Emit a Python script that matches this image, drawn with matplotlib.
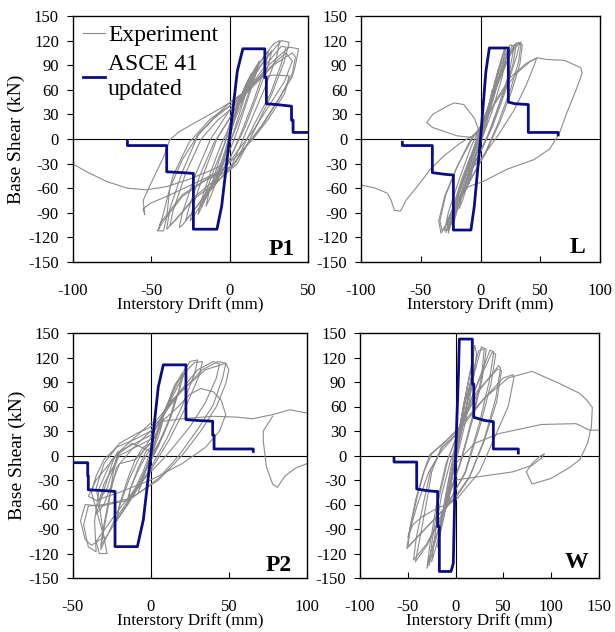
import matplotlib
matplotlib.use('Agg')
import matplotlib.pyplot as plt
import numpy as np
from matplotlib.lines import Line2D

plt.rcParams['font.family'] = ['Liberation Serif', 'DejaVu Serif']
plt.rcParams['axes.unicode_minus'] = False

# ---------------- P1 ----------------
p1_exp_x = [0, 3, 6, 8, 6, 2, -1, -4, -7, -9, -7, -3,
            0, 5, 10, 14, 12, 7, 2, -2, -7, -12, -15, -13, -8, -3,
            0, 6, 12, 19, 17, 11, 5, 0, -8, -15, -20, -18, -12, -5,
            0, 8, 16, 25, 23, 16, 8, 0, -10, -18, -25, -23, -16, -8,
            0, 10, 20, 28, 32, 30, 22, 12, 2, -10, -22, -30, -32, -30, -22, -12,
            0, 10, 22, 33, 38, 35, 27, 17, 5, -8, -22, -35, -40, -38, -30, -20, -10,
            0, 12, 25, 38, 44, 42, 40, 30, 20, 10, 0, -15, -30, -42, -46, -42, -40, -38, -30, -20, -8,
            0, 10, 20, 28, 38, 35, 25, 15, 5, -5, -20, -40, -50, -55, -54, -55, -51, -42, -38, -32, -19, -8,
            0, 10, 22, 30, 36, 40, 35, 25, 15, 5, 0, -14, -27, -40, -53, -65, -78, -91, -100]
p1_exp_y = [0, 25, 45, 55, 42, 15, -5, -30, -48, -55, -40, -15,
            5, 40, 65, 80, 65, 35, 5, -15, -45, -70, -82, -65, -35, -5,
            10, 45, 72, 95, 80, 45, 10, -15, -45, -72, -92, -75, -40, -5,
            15, 55, 85, 108, 90, 50, 10, -25, -55, -80, -100, -80, -40, 0,
            25, 62, 95, 116, 120, 100, 60, 15, -30, -58, -85, -105, -108, -90, -45, 0,
            35, 60, 95, 120, 118, 95, 55, 15, -30, -52, -72, -100, -110, -85, -40, 5, 25,
            40, 60, 90, 112, 110, 90, 76, 45, 15, -10, -38, -50, -70, -100, -112, -112, -95, -60, -25, 5, 30,
            44, 58, 75, 78, 77, 55, 25, 0, -20, -38, -52, -70, -78, -85, -92, -75, -58, -22, -1, 9, 23, 35,
            44, 58, 80, 95, 105, 95, 70, 40, 10, -15, -28, -40, -50, -58, -62, -60, -52, -40, -30]
p1_rep_x = [0, 7, 13, 17, 15, 9, 3, -3, -9, -15, -18, -16, -10, -3,
            0, 9, 18, 27, 25, 18, 10, 0, -10, -20, -28, -26, -19, -10,
            0, 11, 23, 33, 36, 33, 26, 15, 4, -8, -22, -34, -38, -36, -28, -18, -8,
            0, 14, 28, 40, 42, 40, 32, 22, 12, 2, -14, -30, -44, -45, -42, -36, -26, -12, 0]
p1_rep_y = [8, 40, 68, 85, 72, 38, 8, -18, -45, -70, -84, -70, -38, -5,
            18, 52, 85, 108, 92, 55, 15, -25, -52, -80, -100, -85, -45, -5,
            25, 58, 90, 113, 112, 92, 55, 15, -28, -48, -70, -98, -106, -88, -42, 0, 22,
            35, 62, 90, 105, 100, 80, 50, 20, -5, -33, -48, -68, -102, -110, -90, -45, -5, 25, 40]
p1_asce_x = [-65, -65, -40, -40, -30, -23, -23, -8, -5, 0, 5, 8.5, 22.5, 22.5, 23.5, 23.5, 30, 39.5, 39.5, 40.5, 40.5, 50]
p1_asce_y = [-3, -8, -8, -40, -41, -42, -110, -110, -82, 0, 83, 110, 110, 75, 75, 43, 42, 40, 23, 23, 8, 8]

# ---------------- L ----------------
l_exp_x = [0, 5, 10, 8, 2, -3, -8, -10, -6,
           0, 6, 12, 15, 12, 5, -2, -8, -15, -18, -14, -6,
           0, 8, 15, 20, 22, 18, 10, 0, -10, -20, -25, -23, -15, -5,
           0, 10, 18, 25, 28, 24, 15, 5, -8, -20, -28, -30, -27, -18, -8,
           0, 12, 22, 30, 34, 32, 25, 15, 3, -10, -25, -33, -35, -30, -20, -8,
           5, 15, 25, 33, 30, 20, 10, 0, -10, -22, -27, -25, -15, -5,
           0, 12, 25, 38, 48, 55, 70, 84, 85, 80, 72, 66, 58, 45, 22, 2, -10, -20, -28, -27, -22, -10, 0,
           -5, -14, -22, -28, -40, -45, -40, -30, -20, -8, -3, -17, -31, -42, -53, -62, -67, -72, -75, -78, -88, -100]
l_exp_y = [0, 30, 60, 45, 10, -15, -45, -55, -30,
           0, 35, 70, 85, 60, 20, -10, -40, -75, -85, -60, -20,
           5, 45, 85, 110, 105, 75, 35, -5, -45, -85, -105, -90, -50, -10,
           10, 55, 95, 115, 112, 80, 40, 0, -40, -80, -110, -112, -90, -50, -10,
           15, 60, 100, 117, 118, 95, 60, 20, -20, -55, -95, -115, -100, -70, -35, 0,
           25, 70, 105, 118, 100, 55, 15, -15, -45, -90, -115, -100, -55, -15,
           10, 45, 75, 92, 99, 97, 96, 87, 80, 60, 31, 7, -12, -25, -37, -52, -58, -75, -100, -112, -80, -30, 5,
           25, 42, 44, 40, 30, 20, 14, 9, 4, 2, 7, -5, -21, -37, -58, -74, -88, -87, -74, -66, -60, -56]
l_rep_x = [0, 9, 16, 21, 19, 12, 4, -6, -16, -22, -20, -12, -4,
           0, 11, 20, 27, 30, 27, 18, 8, -5, -17, -26, -29, -25, -16, -6,
           0, 13, 24, 31, 35, 33, 26, 16, 4, -9, -24, -32, -34, -29, -19, -7,
           0, 15, 30, 42, 47, 45, 38, 28, 15, 0, -10]
l_rep_y = [5, 50, 90, 112, 95, 55, 15, -25, -70, -100, -85, -45, -8,
           10, 55, 97, 114, 116, 90, 50, 10, -30, -72, -105, -114, -92, -50, -12,
           15, 62, 100, 116, 115, 92, 58, 20, -18, -50, -92, -112, -100, -68, -32, 0,
           15, 50, 80, 95, 99, 90, 65, 35, 5, -25, -40]
l_asce_x = [-65.4, -65.4, -40.3, -40.3, -30, -22.7, -22.7, -8, -5.2, 0, 4.5, 7.4, 23.3, 23.3, 28.9, 40, 40, 65, 65]
l_asce_y = [-4, -8, -8, -41, -43, -44, -111, -111, -82, 0, 82, 111, 111, 45, 43, 42, 8, 8, 5]

# ---------------- P2 ----------------
p2_exp_x = [0, 4, 8, 6, 2, -2, -5, -8, -5,
            0, 6, 12, 16, 13, 8, 2, -4, -10, -15, -13, -8, -3,
            0, 8, 15, 20, 18, 12, 4, -5, -15, -22, -20, -15, -10, -5,
            0, -10, -20, -25, -30, -35, -33, -28, -24, -21, -23, -28, -33, -30, -20, -10,
            0, 10, 20, 25, 30, 28, 20, 10, 0, -10, -22, -32, -30, -27, -24, -20, -10,
            0, 15, 30, 40, 44, 42, 35, 25, 10, -5, -20, -35, -33, -28, -30, -33, -35, -30, -20, -8,
            0, 20, 35, 48, 50, 48, 42, 32, 20, 5, -15, -32, -42, -45, -42, -38, -30, -38, -35, -30, -22, -10,
            0, 15, 25, 32, 40, 45, 48, 44, 35, 20, 0, -20, -35, -40, -35, -20, 0, 20, 40, 55, 65, 78, 89, 100,
            np.nan,
            100, 93, 86, 81, 78, 74, 72, 72, 78]
p2_exp_y = [0, 25, 45, 30, 8, -10, -30, -45, -25,
            0, 40, 65, 72, 50, 25, 5, -20, -45, -60, -40, -15, 5,
            10, 50, 85, 100, 80, 45, 10, -25, -60, -80, -60, -30, -5, 10,
            15, -5, -10, -35, -60, -72, -60, -30, -5, 5, -10, -40, -55, -35, 0, 10,
            20, 60, 100, 115, 117, 100, 60, 20, -15, -45, -80, -110, -90, -60, -20, 5, 15,
            25, 70, 105, 115, 112, 95, 65, 35, 0, -30, -65, -105, -120, -120, -100, -60, -40, -10, 15, 28,
            35, 80, 105, 113, 105, 88, 60, 30, 0, -30, -55, -62, -60, -80, -103, -110, -100, -45, -25, -5, 10, 20,
            30, 55, 75, 82, 78, 68, 50, 30, 10, -10, -30, -45, -55, -50, -30, 5, 40, 45, 48, 47, 45, 50, 56, 52,
            np.nan,
            -10, -15, -25, -39, -35, -14, 18, 30, 48]
p2_rep_x = [0, 9, 16, 21, 19, 13, 5, -4, -14, -22, -20, -14, -8,
            0, 12, 22, 28, 33, 31, 22, 12, 0, -12, -24, -32, -31, -27, -22, -12,
            0, 18, 33, 43, 48, 46, 40, 30, 18, 5, -12, -30, -40, -43, -40, -35, -36, -33, -25, -12,
            0, -5, -10, -15, -13, -8, -3, 0]
p2_rep_y = [12, 52, 88, 100, 85, 48, 12, -22, -58, -80, -62, -30, -5,
            22, 65, 102, 114, 115, 98, 58, 20, -18, -48, -82, -115, -95, -55, -15, 8,
            30, 75, 105, 115, 113, 95, 62, 32, 0, -28, -52, -60, -62, -85, -112, -118, -80, -40, -5, 15,
            5, -20, -40, -55, -40, -18, 0, 8]
p2_asce_x = [-50, -40.4, -40.4, -40, -40, -30, -22.9, -22.9, -8.6, -4.8, 0, 4.8, 8, 22.5, 22.5, 29, 39.6, 39.6, 40.5, 40.5, 65.6, 65.6]
p2_asce_y = [-8.8, -8.8, -25, -25, -42, -43, -44, -111.6, -111.6, -79, 0, 84, 111, 111, 44, 43, 42, 25, 25, 8, 8, 5]

# ---------------- W ----------------
w_exp_x = [0, 5, 10, 8, 3, -2, -5, -8, -5,
           0, 8, 15, 18, 15, 8, 0, -5, -12, -17, -14, -8,
           0, 10, 18, 20, 22, 18, 10, 0, -10, -20, -25, -22, -15, -5,
           3, 15, 27, 32, 28, 18, 5, -10, -25, -30, -27, -20, -10,
           0, 20, 36, 40, 35, 25, 10, -10, -30, -42, -38, -30, -25, -15,
           0, 25, 45, 47, 42, 30, 15, 0, -20, -40, -51, -48, -42, -34, -27, -10,
           0, 30, 50, 60, 61, 55, 40, 25, 0, -20, -35, -45, -50, -40, -28, -15,
           0, 30, 55, 80, 109, 130, 137, 143, 142, 138, 130, 120, 100, 80, 74, 80, 88, 93, 90, 80, 60, 30, 0,
           0, 20, 46, 90, 126, 133, 140, 150]
w_exp_y = [0, 40, 70, 50, 15, -10, -40, -60, -35,
           0, 60, 100, 110, 80, 40, 0, -30, -75, -100, -75, -35,
           5, 70, 120, 135, 125, 90, 40, -10, -55, -110, -130, -100, -50, -5,
           20, 80, 133, 130, 95, 45, -10, -60, -115, -138, -110, -60, -10,
           20, 80, 129, 127, 90, 40, -20, -65, -110, -130, -105, -55, -20, 10,
           25, 80, 110, 107, 70, 20, -25, -50, -75, -100, -114, -90, -55, -22, 1, 18,
           30, 70, 95, 99, 95, 60, 20, -20, -55, -65, -75, -85, -100, -60, -20, 5,
           25, 70, 95, 103, 88, 76, 68, 59, 35, 15, -5, -14, -28, -35, -20, -10, -1, 2, -3, -12, -20, -25, -30,
           -10, 15, 27, 38, 39, 35, 31, 31]
w_rep_x = [0, 9, 16, 19, 17, 10, 2, -6, -14, -19, -16, -9,
           0, 13, 24, 30, 27, 17, 5, -10, -22, -28, -24, -17, -8,
           0, 20, 38, 42, 37, 26, 10, -12, -30, -44, -41, -33, -26, -14,
           0, 22, 44, 48, 43, 30, 14, 0, -22, -42, -50, -47, -40, -33, -25, -10, 0]
w_rep_y = [5, 62, 105, 125, 100, 50, 5, -30, -80, -112, -85, -40,
           15, 78, 128, 131, 95, 45, -8, -58, -108, -135, -100, -50, -5,
           20, 80, 126, 124, 88, 38, -22, -66, -108, -128, -100, -55, -18, 10,
           25, 78, 106, 104, 66, 18, -28, -52, -78, -102, -112, -86, -50, -20, 2, 18, 28]
w_asce_x = [-64.4, -64.4, -40.7, -40.7, -30, -21.5, -18.8, -18.8, -17, -17, -4.8, -2.4, 0, 3, 3.9, 17.5, 17.5, 19, 19, 30, 39.5, 39.5, 65.6, 65.6]
w_asce_y = [-3.5, -8, -8, -41, -43, -44, -44, -87, -87, -142, -142, -132, 0, 100, 142.6, 142.6, 87.5, 87.5, 46.8, 43, 41.4, 8, 8, 3]

panel_names = ['P1', 'L', 'P2', 'W']
x_ticks = {'P1': [-100, -50, 0, 50], 'L': [-100, -50, 0, 50, 100],
           'P2': [-50, 0, 50, 100], 'W': [-100, -50, 0, 50, 100, 150]}
y_ticks = [-150, -120, -90, -60, -30, 0, 30, 60, 90, 120, 150]

exp_data = {'P1': [(p1_exp_x, p1_exp_y), (p1_rep_x, p1_rep_y)],
            'L': [(l_exp_x, l_exp_y), (l_rep_x, l_rep_y)],
            'P2': [(p2_exp_x, p2_exp_y), (p2_rep_x, p2_rep_y)],
            'W': [(w_exp_x, w_exp_y), (w_rep_x, w_rep_y)]}
asce_data = {'P1': (p1_asce_x, p1_asce_y), 'L': (l_asce_x, l_asce_y),
             'P2': (p2_asce_x, p2_asce_y), 'W': (w_asce_x, w_asce_y)}

W, H = 615, 632
pix = {'P1': (72.5, 16, 308, 262), 'L': (361, 16, 600, 262),
       'P2': (72.7, 333, 307, 578), 'W': (360, 333, 599, 578)}
label_pos = {'P1': (0.945, 0.03), 'L': (0.937, 0.037), 'P2': (0.936, 0.03), 'W': (0.954, 0.04)}

gray = '#8c8c8c'
blue = '#0c0c84'

fig = plt.figure(figsize=(W / 100, H / 100), dpi=100)
for name in panel_names:
    l, t, r, b = pix[name]
    ax = fig.add_axes([l / W, 1 - b / H, (r - l) / W, (b - t) / H])
    for ex, ey in exp_data[name]:
        ax.plot(ex, ey, color=gray, lw=0.8, zorder=2)
    ax.axhline(0, color='black', lw=0.8, zorder=1)
    ax.axvline(0, color='black', lw=0.8, zorder=1)
    axx, axy = asce_data[name]
    ax.plot(axx, axy, color=blue, lw=2.0, zorder=3)
    xt = x_ticks[name]
    ax.set_xlim(xt[0], xt[-1])
    ax.set_ylim(-150, 150)
    ax.set_xticks(xt)
    ax.set_yticks(y_ticks)
    ax.tick_params(axis='x', direction='in', length=4.5, pad=15, labelsize=12)
    ax.tick_params(axis='y', direction='out', length=4.5, pad=5.3, labelsize=12)
    ax.set_xlabel('Interstory Drift (mm)', fontsize=12.3, labelpad=-1)
    if name in ('P1', 'P2'):
        ax.set_ylabel('Base Shear (kN)', fontsize=14)
        ax.yaxis.set_label_coords(-0.2, 0.5)
    for s in ax.spines.values():
        s.set_linewidth(1.0)
    lx, ly = label_pos[name]
    ax.text(lx, ly, name, transform=ax.transAxes, ha='right', va='baseline',
            fontsize=17, fontweight='bold')
    if name == 'P1':
        handles = [Line2D([], [], color=gray, lw=0.8), Line2D([], [], color=blue, lw=2.0)]
        ax.legend(handles, ['Experiment', 'ASCE 41\nupdated'], loc='upper left',
                  bbox_to_anchor=(-0.027, 1.032), frameon=False, fontsize=17,
                  handlelength=0.95, handletextpad=0.12, labelspacing=0.35,
                  borderpad=0.2)

fig.savefig('out.png', dpi=100)
